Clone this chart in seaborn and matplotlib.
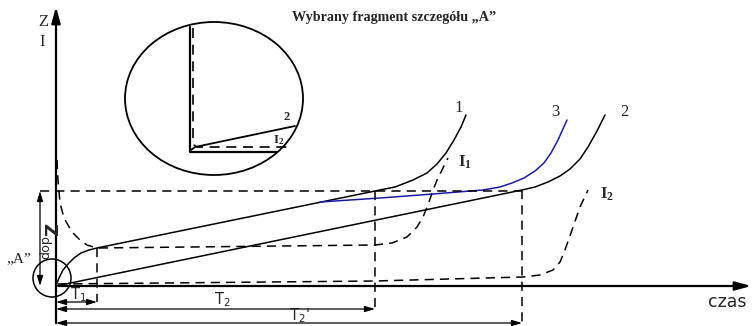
import matplotlib
matplotlib.use("Agg")
import matplotlib.pyplot as plt
from matplotlib.patches import Ellipse, Circle
import seaborn as sns
import pandas as pd

# all coordinates in picture units (x to the right, y downwards)
curve1_x = [56, 59, 63, 68, 74, 81, 89, 97, 375, 395, 413, 427, 437, 446, 454, 461, 466]
curve1_y = [286, 278, 270, 264, 258, 253, 250, 248, 191, 187, 180, 173, 164, 153, 140, 127, 115]

curve2_x = [56, 522, 535, 548, 560, 570, 580, 588, 597, 605]
curve2_y = [286, 190, 187, 182, 176, 169, 159, 147, 131, 115]

curve3_x = [320, 380, 433, 483, 500, 512, 524, 535, 544, 551, 558, 567]
curve3_y = [202, 198, 194, 190, 187, 183, 178, 171, 163, 153, 140, 120]

i1_x = [57, 58, 60, 64, 72, 80, 87, 97, 375, 392, 407, 417, 423, 428, 432, 437, 443, 448]
i1_y = [160, 180, 203, 218, 232, 240, 245, 248, 245, 243, 237, 227, 217, 205, 193, 180, 168, 158]

i2_x = [58, 375, 523, 540, 553, 560, 565, 572, 580, 588]
i2_y = [284, 281, 277, 275, 270, 262, 250, 230, 207, 190]

# detail "A" (inset)
det_axis_x = [190, 190, 277]
det_axis_y = [27, 152, 152]
det_i2_x = [193, 193, 194, 197, 290]
det_i2_y = [28, 140, 145, 147, 147]
det_c2_x = [191, 195, 295]
det_c2_y = [150, 147, 126]

# time marks
t_marks = {"T$_1$": 97, "T$_2$": 375, "T$_2$'": 522}
t_rows = [302, 309, 323]
t_tops = [248, 191, 190]
t_label_xy = [(78, 295), (222, 300), (299, 316)]
z_dop_y = 191

sns.set_theme(style="white")
plt.rcParams["font.family"] = ["Liberation Serif", "DejaVu Serif"]
plt.rcParams["mathtext.fontset"] = "custom"
plt.rcParams["mathtext.rm"] = "Liberation Serif"
plt.rcParams["mathtext.it"] = "Liberation Serif"
plt.rcParams["mathtext.bf"] = "Liberation Serif:bold"

fig = plt.figure(figsize=(7.54, 3.26), dpi=100)
ax = fig.add_axes([0, 0, 1, 1])
ax.set_xlim(0, 754)
ax.set_ylim(326, 0)
ax.axis("off")

dash = (6, 4)
solid_kw = dict(color="black", lw=1.1, sort=False, estimator=None, ax=ax, legend=False)

def draw(xs, ys, dashed=False, **kw):
    df = pd.DataFrame({"x": xs, "y": ys})
    opts = dict(solid_kw)
    opts.update(kw)
    l = sns.lineplot(data=df, x="x", y="y", **opts)
    if dashed:
        l.lines[-1].set_dashes(dash)

draw(curve1_x, curve1_y)
draw(curve2_x, curve2_y)
draw(curve3_x, curve3_y, color="#1a1aa8")
draw(i1_x, i1_y, dashed=True)
draw(i2_x, i2_y, dashed=True)

# helper dashed guides
draw([40, 522], [z_dop_y, z_dop_y], dashed=True)
for xm, top, yr in zip(t_marks.values(), t_tops, t_rows):
    draw([xm, xm], [top, yr], dashed=True)

# axes
arrow_kw = dict(arrowstyle="-|>,head_length=0.8,head_width=0.22", color="black", lw=1.6)
ax.annotate("", xy=(56, 4), xytext=(56, 326), arrowprops=arrow_kw)
ax.annotate("", xy=(754, 286), xytext=(56, 286), arrowprops=arrow_kw)

# dimension arrows
dim_kw = dict(arrowstyle="<|-|>,head_length=0.5,head_width=0.15", color="black", lw=0.9,
              shrinkA=0, shrinkB=0)
for (lab, xm), yr, (lx, ly) in zip(t_marks.items(), t_rows, t_label_xy):
    ax.annotate("", xy=(xm, yr), xytext=(56, yr), arrowprops=dim_kw)
    ax.text(lx, ly, lab, family="DejaVu Sans", fontsize=10.5, ha="center", va="center",
            math_fontfamily="dejavusans")
ax.annotate("", xy=(40, z_dop_y), xytext=(40, 286), arrowprops=dim_kw)
ax.text(47, 241, "Z$_{\\mathrm{dop}}$", fontsize=13, fontweight="bold", rotation=270,
        ha="center", va="center", family="DejaVu Sans", math_fontfamily="dejavusans")

# circles
ax.add_patch(Circle((52, 278), 19, fill=False, lw=1.1, color="black"))
ax.add_patch(Ellipse((214, 98.5), 178, 153, fill=False, lw=1.3, color="black"))
draw(det_axis_x, det_axis_y, lw=1.6)
draw(det_i2_x, det_i2_y, dashed=True, lw=1.2)
draw(det_c2_x, det_c2_y, lw=1.3)
ax.text(287, 117, "2", fontsize=9, fontweight="bold", ha="center", va="center")
ax.text(279, 140, "I$_\\mathbf{2}$", fontsize=9.5, fontweight="bold", ha="center", va="center")

# labels
ax.text(43, 22, "Z", fontsize=12, ha="center", va="center")
ax.text(42, 42, "I", fontsize=12, ha="center", va="center")
ax.text(19, 259, "„A”", fontsize=11, ha="center", va="center")
ax.text(292, 18, "Wybrany fragment szczegółu „A”", fontsize=10.2, fontweight="bold",
        ha="left", va="center")
ax.text(459, 108, "1", fontsize=12, ha="center", va="center")
ax.text(555, 112, "3", fontsize=12, ha="center", va="center")
ax.text(624, 112, "2", fontsize=12, ha="center", va="center")
ax.text(465, 162, "I$_\\mathbf{1}$", fontsize=12, fontweight="bold", ha="center", va="center")
ax.text(607, 194, "I$_\\mathbf{2}$", fontsize=12, fontweight="bold", ha="center", va="center")
ax.text(727, 302, "czas", fontsize=12.5, family="DejaVu Sans", ha="center", va="center")

fig.savefig("out.png", dpi=100)
